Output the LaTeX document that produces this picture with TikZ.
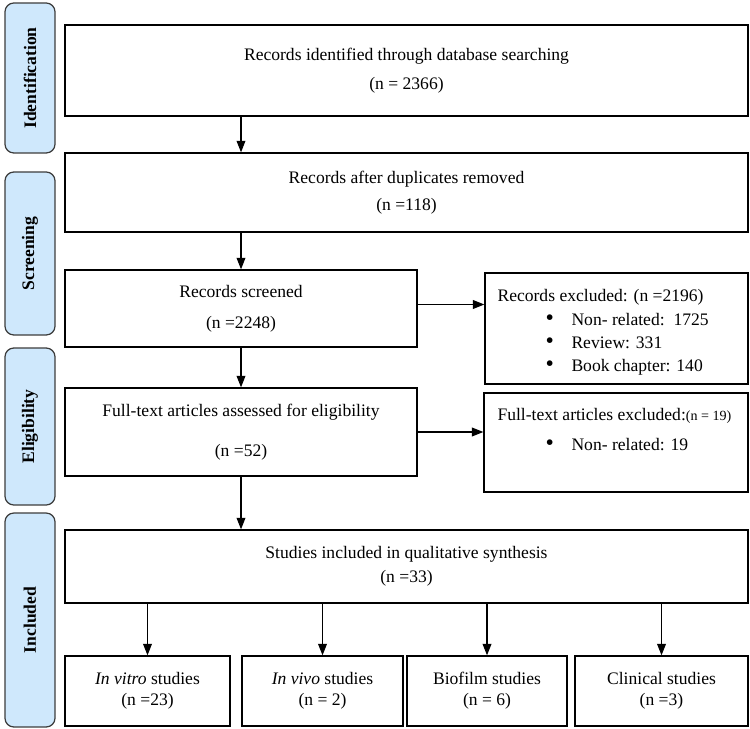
\documentclass[tikz,border=0pt]{standalone}
\usepackage{fontspec}
\setmainfont{Liberation Serif}
\usetikzlibrary{arrows.meta}
\definecolor{phasefill}{RGB}{207,232,252}
\definecolor{phaseline}{RGB}{60,60,60}
\newcommand{\bitem}[1]{\makebox[0.52cm][l]{\smash{\scalebox{1.35}{\textbullet}}}#1}

\begin{document}
\begin{tikzpicture}[x=0.02cm, y=-0.02cm, >={Triangle[length=6.5pt,width=5pt]}, line width=0.6pt,
  box/.style={draw, line width=0.8pt, inner sep=0pt, align=center},
  txt/.style={anchor=west, inner sep=0pt},
  phase/.style={draw=phaseline, fill=phasefill, line width=0.7pt, rounded corners=5pt,
    rotate=90, inner sep=0pt, minimum height=1cm, font=\bfseries}]
  \useasboundingbox (0,0) rectangle (750,729);

  % phases
  \node[phase, minimum width=3cm] (ident) at (30,78) {Identification};
  \node[phase, minimum width=3.26cm] (scrn) at (30,253.5) {Screening};
  \node[phase, minimum width=3.14cm] (elig) at (30,426.5) {Eligibility};
  \node[phase, minimum width=4.28cm] (inclp) at (30,620) {Included};

  % main column
  \node[box, minimum width=13.66cm, minimum height=1.82cm] (found) at (406.5,70.5)
    {Records identified through database searching\\[4.5pt](n = 2366)};
  \node[box, minimum width=13.66cm, minimum height=1.58cm] (dedup) at (406.5,192.5)
    {Records after duplicates removed\\[3.4pt](n =118)};
  \node[box, minimum width=7.04cm, minimum height=1.54cm] (screened) at (241,308.5)
    {Records screened\\[5.6pt](n =2248)};
  \node[box, minimum width=7.04cm, minimum height=1.76cm] (assessed) at (241,432)
    {Full-text articles assessed for eligibility\\[10.8pt](n =52)};
  \node[box, minimum width=13.66cm, minimum height=1.46cm] (incl) at (406.5,566.5)
    {Studies included in qualitative synthesis\\[1.7pt](n =33)};

  % exclusions
  \node[box, minimum width=5.26cm, minimum height=2.22cm] (excl) at (616.5,328.5) {};
  \node[txt] (excltitle) at (497,297) {Records excluded: (n =2196)};
  \node[txt] (exclA) at (545,320) {\bitem{Non- related:\ \ 1725}};
  \node[txt] (exclB) at (545,343) {\bitem{Review: 331}};
  \node[txt] (exclC) at (545,367) {\bitem{Book chapter: 140}};
  \node[box, minimum width=5.28cm, minimum height=1.98cm] (ftexcl) at (616,442.5) {};
  \node[txt] (fttitle) at (497,416) {Full-text articles excluded:{\footnotesize(n = 19)}};
  \node[txt] (ftA) at (545,445) {\bitem{Non- related: 19}};

  % included studies
  \node[box, minimum width=3.3cm, minimum height=1.4cm] (vitro) at (147.5,691)
    {\textit{In vitro} studies\\(n =23)};
  \node[box, minimum width=3.22cm, minimum height=1.4cm] (vivo) at (322.5,691)
    {\textit{In vivo} studies\\(n = 2)};
  \node[box, minimum width=3.2cm, minimum height=1.4cm] (biofilm) at (487,691)
    {Biofilm studies\\(n = 6)};
  \node[box, minimum width=3.46cm, minimum height=1.4cm] (clinical) at (661.5,691)
    {Clinical studies\\(n =3)};

  \draw[->] (found.south -| screened.north) -- (dedup.north -| screened.north);
  \draw[->] (dedup.south -| screened.north) -- (screened.north);
  \draw[->] (screened.south) -- (assessed.north);
  \draw[->] (assessed.south) -- (incl.north -| assessed.south);
  \draw[->] ([yshift=0.08cm]screened.east) -- ([yshift=0.08cm]screened.east -| excl.west);
  \draw[->] (assessed.east) -- (assessed.east -| ftexcl.west);
  \foreach \s in {vitro,vivo,biofilm,clinical}
    \draw[->] (incl.south -| \s.north) -- (\s.north);
\end{tikzpicture}
\end{document}
